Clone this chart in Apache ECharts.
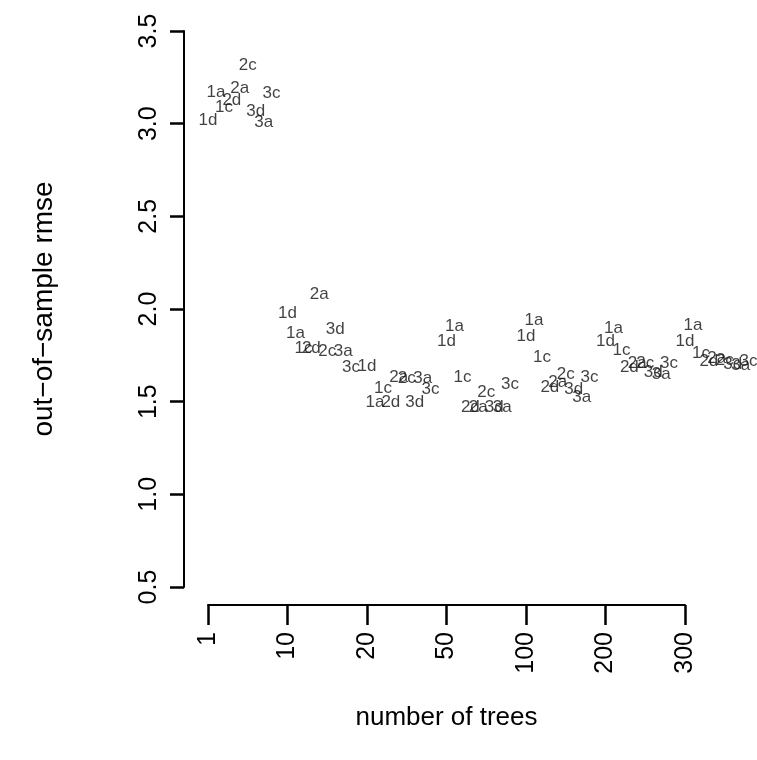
<!DOCTYPE html>
<html>
<head>
<meta charset="utf-8">
<script src="https://cdn.jsdelivr.net/npm/echarts@6/dist/echarts.min.js"></script>
<style>
  html, body { margin: 0; padding: 0; background: #fff; }
  #chart { width: 757px; height: 760px; }
</style>
</head>
<body>
<div id="chart"></div>
<script>
// Number of trees, one column per setting (drawn at evenly spaced positions 1..7)
const treeCounts = ['1', '10', '20', '50', '100', '200', '300'];

// Model labels, in the order they are placed from left to right inside each column
const modelCodes = ['1d', '1a', '1c', '2d', '2a', '2c', '3d', '3a', '3c'];

// Out-of-sample RMSE for each model, one value per tree count
const rmse1d = [3.020, 1.979, 1.693, 1.823, 1.850, 1.823, 1.823];
const rmse1a = [3.171, 1.871, 1.494, 1.909, 1.941, 1.898, 1.914];
const rmse1c = [3.090, 1.790, 1.574, 1.634, 1.742, 1.779, 1.763];
const rmse2d = [3.128, 1.790, 1.494, 1.467, 1.580, 1.688, 1.720];
const rmse2a = [3.193, 2.081, 1.634, 1.467, 1.607, 1.709, 1.736];
const rmse2c = [3.317, 1.769, 1.628, 1.553, 1.645, 1.709, 1.725];
const rmse3d = [3.068, 1.893, 1.494, 1.467, 1.564, 1.661, 1.704];
const rmse3a = [3.009, 1.769, 1.628, 1.467, 1.521, 1.645, 1.698];
const rmse3c = [3.166, 1.688, 1.564, 1.591, 1.634, 1.709, 1.720];

// Y-axis ticks
const rmseTicks = [0.5, 1.0, 1.5, 2.0, 2.5, 3.0, 3.5];

const rmseByModel = {
  '1d': rmse1d, '1a': rmse1a, '1c': rmse1c,
  '2d': rmse2d, '2a': rmse2a, '2c': rmse2c,
  '3d': rmse3d, '3a': rmse3a, '3c': rmse3c
};

const FONT = '"Liberation Sans", Arial, Helvetica, sans-serif';
const labelStep = 0.1; // horizontal spacing between model labels within a column

const series = modelCodes.map(function (code, k) {
  return {
    type: 'scatter',
    name: code,
    clip: false,
    symbol: 'circle',
    symbolSize: 1,
    itemStyle: { color: 'rgba(0,0,0,0)' },
    label: {
      show: true,
      position: 'inside',
      formatter: code,
      color: '#111',
      fontFamily: FONT,
      fontSize: 17
    },
    data: rmseByModel[code].map(function (v, i) {
      return [i + 1 + k * labelStep, v];
    })
  };
});

const chart = echarts.init(document.getElementById('chart'), null, { renderer: 'canvas' });
chart.setOption({
  animation: false,
  backgroundColor: '#ffffff',
  grid: { left: 208, right: 72, top: 31, bottom: 173, containLabel: false },
  xAxis: {
    type: 'value',
    min: 1,
    max: treeCounts.length,
    interval: 1,
    offset: 18,
    name: 'number of trees',
    nameLocation: 'middle',
    nameGap: 100,
    nameTextStyle: { fontFamily: FONT, fontSize: 26, color: '#000' },
    splitLine: { show: false },
    axisLine: { show: true, lineStyle: { color: '#000', width: 2 } },
    axisTick: { show: true, length: 20, lineStyle: { color: '#000', width: 2.5 } },
    axisLabel: {
      rotate: 90,
      margin: 27,
      fontFamily: FONT,
      fontSize: 25,
      color: '#000',
      formatter: function (v) {
        const i = Math.round(v) - 1;
        return treeCounts[i] !== undefined ? treeCounts[i] : '';
      }
    }
  },
  yAxis: {
    type: 'value',
    min: rmseTicks[0],
    max: rmseTicks[rmseTicks.length - 1],
    interval: 0.5,
    offset: 24,
    name: 'out\u2212of\u2212sample rmse',
    nameLocation: 'middle',
    nameRotate: 90,
    nameGap: 126,
    nameTextStyle: { fontFamily: FONT, fontSize: 28, color: '#000' },
    splitLine: { show: false },
    axisLine: { show: true, lineStyle: { color: '#000', width: 2 } },
    axisTick: { show: true, length: 14, lineStyle: { color: '#000', width: 2.5 } },
    axisLabel: {
      rotate: 90,
      margin: 22,
      fontFamily: FONT,
      fontSize: 25,
      color: '#000',
      formatter: function (v) { return v.toFixed(1); }
    }
  },
  series: series
});
</script>
</body>
</html>
